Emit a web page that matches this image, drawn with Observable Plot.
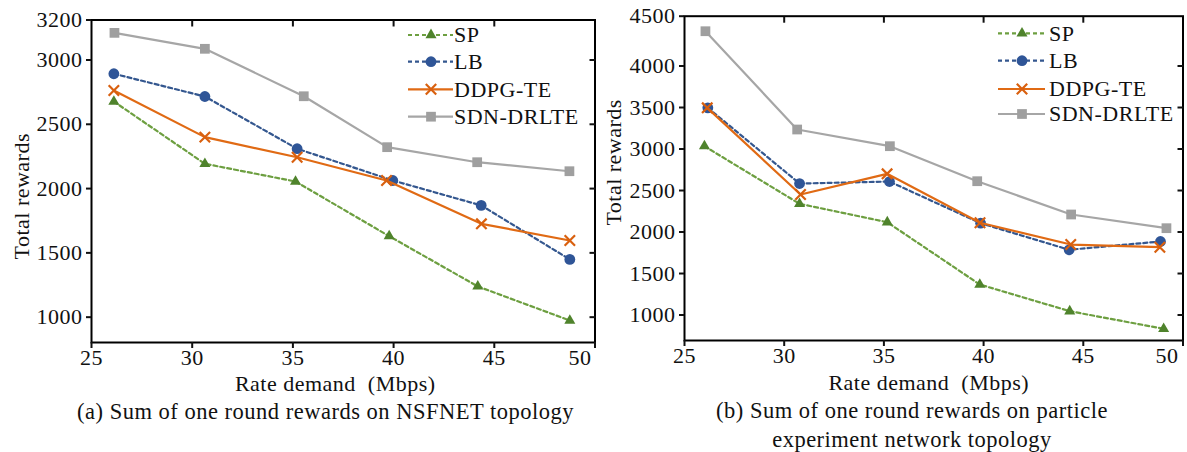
<!DOCTYPE html>
<html><head><meta charset="utf-8">
<script src="https://cdn.jsdelivr.net/npm/d3@7"></script>
<script src="https://cdn.jsdelivr.net/npm/@observablehq/plot@0.6"></script>
<style>
body{margin:0;background:#fff;}
#wrap{position:relative;width:1187px;height:452px;overflow:hidden;font-family:"Liberation Serif","Times New Roman",serif;color:#111;}
.panel{position:absolute;top:0;}
.cap{position:absolute;font-size:22.5px;letter-spacing:0.5px;line-height:29px;text-align:center;white-space:nowrap;}
</style></head><body>
<div id="wrap">
  <div class="panel" id="pa" style="left:0px"></div>
  <div class="panel" id="pb" style="left:590px"></div>
  <div class="cap" style="left:0px;width:651px;top:397px">(a) Sum of one round rewards on NSFNET topology</div>
  <div class="cap" style="left:612px;width:600px;top:396px">(b) Sum of one round rewards on particle<br>experiment network topology</div>
</div>
<script>
// ---- data ----
const series = ["SP", "LB", "DDPG-TE", "SDN-DRLTE"];
const xTicks = [25, 30, 35, 40, 45, 50];

// Panel (a): NSFNET
const rateA_SP   = [26.11, 30.63, 35.13, 39.78, 44.18, 48.75];
const rewardA_SP = [2677, 2193, 2055, 1630, 1239, 974];
const rateA_LB   = [26.11, 30.63, 35.21, 39.96, 44.35, 48.75];
const rewardA_LB = [2893, 2716, 2310, 2063, 1869, 1449];
const rateA_DDPG   = [26.11, 30.63, 35.21, 39.65, 44.36, 48.75];
const rewardA_DDPG = [2763, 2400, 2244, 2063, 1726, 1596];
const rateA_SDN   = [26.14, 30.63, 35.54, 39.68, 44.15, 48.73];
const rewardA_SDN = [3211, 3087, 2718, 2322, 2205, 2135];
const yDomainA = [803, 3311];
const yTicksA  = [1000, 1500, 2000, 2500, 3000, 3311];
const yLabelsA = ["1000", "1500", "2000", "2500", "3000", "3200"];

// Panel (b): particle experiment network
const rateB_SP   = [26.00, 30.77, 35.17, 39.81, 44.32, 49.03];
const rewardB_SP = [3034, 2340, 2118, 1367, 1046, 834];
const rateB_LB   = [26.17, 30.77, 35.28, 39.85, 44.29, 48.87];
const rewardB_LB = [3496, 2584, 2608, 2106, 1786, 1886];
const rateB_DDPG   = [26.14, 30.82, 35.16, 39.82, 44.37, 48.84];
const rewardB_DDPG = [3496, 2452, 2701, 2111, 1849, 1817];
const rateB_SDN   = [26.05, 30.65, 35.30, 39.68, 44.39, 49.17];
const rewardB_SDN = [4419, 3235, 3034, 2612, 2211, 2046];
const yDomainB = [693, 4600];
const yTicksB  = [1000, 1500, 2000, 2500, 3000, 3500, 4000, 4600];
const yLabelsB = ["1000", "1500", "2000", "2500", "3000", "3500", "4000", "4500"];

const xTitle = "Rate demand\u00a0 (Mbps)";
const yTitle = "Total rewards";

// ---- styles ----
const styles = {
  "SP":        {line: "#6d9f40", fill: "#4f832c", dash: "4,3", symbol: "triangle", d3sym: d3.symbolTriangle, r: 4.1},
  "LB":        {line: "#34578f", fill: "#2f5597", dash: "4,3", symbol: "circle", d3sym: d3.symbolCircle, r: 5.4},
  "DDPG-TE":   {line: "#e06a14", fill: null, stroke: "#d9600f", dash: null, symbol: "times", d3sym: d3.symbolTimes, r: 4.8},
  "SDN-DRLTE": {line: "#a6a6a6", fill: "#9f9f9f", dash: null, symbol: "square", d3sym: d3.symbolSquare, r: 5.5}
};

function buildRows(rates, rewards) {
  const rows = [];
  series.forEach((s, i) => rates[i].forEach((x, j) => rows.push({series: s, rate: x, reward: rewards[i][j]})));
  return rows;
}
const rowsA = buildRows([rateA_SP, rateA_LB, rateA_DDPG, rateA_SDN], [rewardA_SP, rewardA_LB, rewardA_DDPG, rewardA_SDN]);
const rowsB = buildRows([rateB_SP, rateB_LB, rateB_DDPG, rateB_SDN], [rewardB_SP, rewardB_LB, rewardB_DDPG, rewardB_SDN]);

function panel(o) {
  const last = xTicks[xTicks.length - 1];
  const marks = [
    Plot.frame({stroke: "#000", strokeWidth: 2}),
    Plot.axisX({ticks: xTicks, tickSize: 6, tickPadding: 1, strokeWidth: 2, label: null, tickFormat: d => d === last ? "" : String(d)}),
    Plot.axisX({ticks: [last], tickSize: 0, tickPadding: 7, dx: o.lastDx, label: null, tickFormat: d => String(d)}),
    Plot.axisX({anchor: "top", ticks: xTicks.slice(1, -1), tickSize: 6, dy: 6, strokeWidth: 2, label: null, tickFormat: () => ""}),
    Plot.axisY({ticks: o.yTicks, tickSize: 5, tickPadding: 4, strokeWidth: 2, label: null, tickFormat: d => o.yLabels[o.yTicks.indexOf(d)]}),
    Plot.axisY({anchor: "right", ticks: o.yTicks.slice(0, -1), tickSize: 6, dx: -6, strokeWidth: 2, label: null, tickFormat: () => ""}),
    Plot.text([yTitle], {frameAnchor: "left", text: d => d, rotate: -90, dx: o.yDx, dy: o.yDy, textAnchor: "middle", lineAnchor: "middle"}),
    Plot.text([xTitle], {frameAnchor: "bottom", text: d => d, dx: o.xDx, dy: o.xDy, textAnchor: "middle", lineAnchor: "middle"})
  ];
  series.forEach(s => {
    const st = styles[s];
    const data = o.rows.filter(d => d.series === s);
    marks.push(Plot.line(data, {x: "rate", y: "reward", stroke: st.line, strokeWidth: 2.2, strokeDasharray: st.dash || undefined}));
    if (st.fill) marks.push(Plot.dot(data, {x: "rate", y: "reward", symbol: st.symbol, r: st.r, fill: st.fill, stroke: "none"}));
    else marks.push(Plot.dot(data, {x: "rate", y: "reward", symbol: st.symbol, r: st.r, fill: "none", stroke: st.stroke, strokeWidth: 2.2}));
  });
  return Plot.plot({
    width: o.width, height: o.height,
    marginLeft: o.ml, marginRight: o.mr, marginTop: o.mt, marginBottom: o.mb,
    x: {domain: [25, 50]},
    y: {domain: o.yDomain},
    style: {fontFamily: "'Liberation Serif', 'Times New Roman', serif", fontSize: "22px", color: "#111", background: "transparent", overflow: "visible", letterSpacing: "0.5px"},
    marks
  });
}

document.getElementById("pa").append(panel({
  width: 600, height: 395, ml: 91, mr: 5.5, mt: 19.5, mb: 53,
  yDomain: yDomainA, yTicks: yTicksA, yLabels: yLabelsA, rows: rowsA,
  yDx: -70, yDy: 15, xDx: -8, xDy: 41.5, lastDx: -15
}));
document.getElementById("pb").append(panel({
  width: 597, height: 395, ml: 94, mr: 4.5, mt: 15.7, mb: 55,
  yDomain: yDomainB, yTicks: yTicksB, yLabels: yLabelsB, rows: rowsB,
  yDx: -71, yDy: -16, xDx: -5, xDy: 42, lastDx: -16
}));

// ---- legends ----
const lg = d3.select("#wrap").append("svg")
  .attr("width", 1187).attr("height", 452)
  .style("position", "absolute").style("left", "0px").style("top", "0px").style("pointer-events", "none");
function drawLegend(x0, x1, xm, xt, ys) {
  series.forEach((s, i) => {
    const st = styles[s], y = ys[i];
    lg.append("line").attr("x1", x0).attr("x2", x1).attr("y1", y).attr("y2", y)
      .attr("stroke", st.line).attr("stroke-width", 2.2).attr("stroke-dasharray", st.dash);
    const p = lg.append("path").attr("d", d3.symbol().type(st.d3sym).size(Math.PI * st.r * st.r)())
      .attr("transform", `translate(${xm},${y})`);
    if (st.fill) p.attr("fill", st.fill);
    else p.attr("fill", "none").attr("stroke", st.stroke).attr("stroke-width", 2.2);
    lg.append("text").attr("x", xt).attr("y", y).attr("dy", "0.34em")
      .attr("font-family", "'Liberation Serif', 'Times New Roman', serif").attr("font-size", 22)
      .attr("letter-spacing", "0.5px").attr("fill", "#111").text(s);
  });
}
drawLegend(408, 453, 431, 454, [35, 61.7, 89.3, 116.7]);
drawLegend(998, 1045, 1022, 1049, [33.3, 60.7, 89, 114]);
</script>
</body></html>
